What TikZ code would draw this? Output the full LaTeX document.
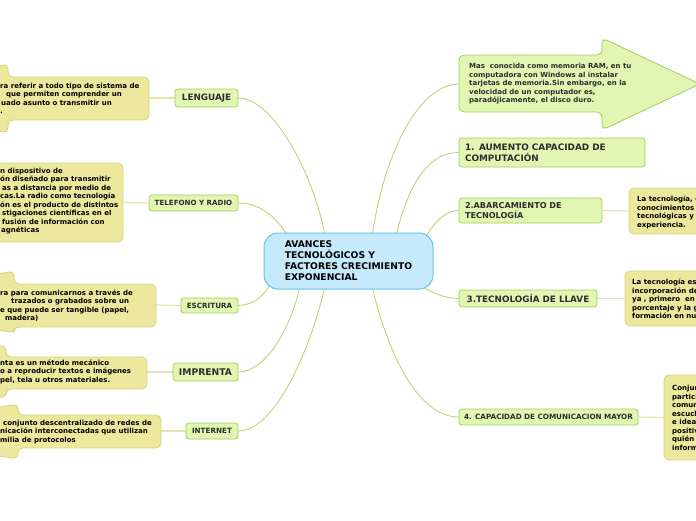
\documentclass[tikz,border=0pt]{standalone}
\usepackage{fontspec}
\setmainfont{DejaVu Sans}
\usetikzlibrary{calc}
\definecolor{gfill}{RGB}{224,246,178}
\definecolor{gline}{RGB}{162,206,86}
\definecolor{yfill}{RGB}{236,233,158}
\definecolor{yline}{RGB}{216,211,125}
\definecolor{cfill}{RGB}{198,234,251}
\definecolor{cline}{RGB}{104,195,236}
\definecolor{conn}{RGB}{178,212,104}
\definecolor{yconn}{RGB}{230,227,172}
\definecolor{txt}{RGB}{45,45,45}
\newcommand{\fsz}[2]{\fontsize{#1}{#2}\selectfont\bfseries}
\newcommand{\ind}[1]{\hspace*{#1}}
\pgfdeclarelayer{background}
\pgfsetlayers{background,main}
\begin{document}
\begin{tikzpicture}[x=1pt,y=-1pt,
  gbox/.style={draw=gline,fill=gfill,line width=0.8pt,rounded corners=3pt,inner sep=0pt,text=txt},
  ybox/.style={draw=yline,fill=yfill,line width=0.8pt,rounded corners=5pt},
  ytext/.style={inner sep=0pt,align=left,anchor=north west,text=black,font=\fsz{7}{8.5}},
  ytab/.style={inner sep=0pt,anchor=north west,text=black,font=\fsz{7}{8.5}},
  cbox/.style={draw=cline,fill=cfill,line width=1pt,rounded corners=14pt,inner sep=0pt,align=left,text=black},
  link/.style={draw=conn,line width=0.8pt},
  ylink/.style={draw=yconn,line width=1.2pt}]
\useasboundingbox (0,0) rectangle (696,520);
\clip (0,0) rectangle (696,520);

% central node
\node[cbox,minimum width=169pt,minimum height=56pt,font=\fsz{9.2}{11}] (c) at (348.5,261)
  {AVANCES\\TECNOLÓGICOS Y\\FACTORES CRECIMIENTO\\EXPONENCIAL};

% left topic nodes
\node[gbox,minimum width=63pt,minimum height=18pt,font=\fsz{8.8}{10}] (lang) at (206.5,98) {LENGUAJE};
\node[gbox,minimum width=89pt,minimum height=16pt,font=\fsz{7.1}{8}] (tel) at (193.5,203) {TELEFONO Y RADIO};
\node[gbox,minimum width=57pt,minimum height=15pt,font=\fsz{7.2}{8}] (esc) at (209.5,305.5) {ESCRITURA};
\node[gbox,minimum width=65pt,minimum height=18pt,font=\fsz{9.2}{10}] (imp) at (205.5,372) {IMPRENTA};
\node[gbox,minimum width=52pt,minimum height=16pt,font=\fsz{7.2}{8}] (int) at (212,431) {INTERNET};

% right topic nodes
\path[gbox,rounded corners=5pt] (459,55) -- (602,55) -- (602,38) -- (700,84) -- (602,130) -- (602,112) -- (459,112) -- cycle;
\coordinate (ramin) at (459,84);
\node[ytext,text=txt] (ramt) at (469,63) {Mas~ conocida como memoria RAM, en tu\\computadora con Windows al instalar\\tarjetas de memoria.Sin embargo, en la\\velocidad de un computador es,\\paradójicamente, el disco duro.};
\node[gbox,minimum width=186pt,minimum height=29pt,text width=174pt,align=left,font=\fsz{8.9}{11}] (a1) at (552,152.5) {1. AUMENTO CAPACIDAD DE\\COMPUTACIÓN};
\node[gbox,minimum width=143pt,minimum height=25pt,text width=131pt,align=left,font=\fsz{8.1}{10}] (a2) at (530.5,210.5) {2.ABARCAMIENTO DE\\TECNOLOGÍA};
\node[gbox,minimum width=138pt,minimum height=17pt,font=\fsz{8.8}{9}] (a3) at (528,298.5) {3.TECNOLOGÍA DE LLAVE};
\node[gbox,minimum width=179pt,minimum height=16pt,font=\fsz{7.2}{8}] (a4) at (548.5,417) {4. CAPACIDAD DE COMUNICACION MAYOR};

% right callouts
\node[ybox,minimum width=81pt,minimum height=46pt] (y2) at (669.5,211) {};
\node[ytext] (y2t) at (637,196) {La tecnología, e\\conocimientos\\tecnológicas y\\experiencia.};
\node[ybox,minimum width=85pt,minimum height=55pt] (y3) at (667.5,298.5) {};
\node[ytext] (y3t) at (632,279) {La tecnología es\\incorporación de\\ya , primero~ en\\porcentaje y la g\\formación en nu};
\node[ybox,minimum width=46pt,minimum height=85pt] (y4) at (687,417.5) {};
\node[ytext] (y4t) at (672,385) {Conjun\\partici\\comun\\escuch\\e ideas\\positiv\\quién p\\inform};

% left callouts
\path[ybox] (149,77) -- (149,120) -- (8,120) -- (8,133) -- (-150,98.5) -- (8,64) -- (8,77) -- cycle;
\coordinate (ly1) at (149,98);
\node[ytab] (ly1t) at (0,82) {\begin{tabular}{@{}l@{}}ra referir a todo tipo de sistema de\\\ind{6pt}que permiten comprender un\\\ind{1pt}uado asunto o transmitir un\\.\end{tabular}};

\node[ybox,minimum width=143pt,minimum height=79pt] (ly2) at (51.5,202.5) {};
\node[ytab] (ly2t) at (0,167) {\begin{tabular}{@{}l@{}}n dispositivo de\\ón diseñado para transmitir\\\ind{2pt}as a distancia por medio de\\cas.La radio como tecnología\\ón es el producto de distintos\\\ind{2pt}stigaciones científicas en el\\\ind{2pt}fusión de información con\\\ind{1pt}agnéticas\end{tabular}};

\path[ybox] (156,284) -- (156,327) -- (14,327) -- (14,333) -- (-150,302) -- (14,271) -- (14,284) -- cycle;
\coordinate (ly3) at (156,305);
\node[ytab] (ly3t) at (0,289) {\begin{tabular}{@{}l@{}}ra para comunicarnos a través de\\\ind{11pt}trazados o grabados sobre un\\e que puede ser tangible (papel,\\\ind{5pt}madera)\end{tabular}};

\path[ybox] (147,357) -- (147,389) -- (6,389) -- (6,398) -- (-150,372) -- (6,345) -- (6,357) -- cycle;
\coordinate (ly4) at (147,372);
\node[ytab] (ly4t) at (0,359) {\begin{tabular}{@{}l@{}}nta es un método mecánico\\o a reproducir textos e imágenes\\pel, tela u otros materiales.\end{tabular}};

\path[ybox] (161,415) -- (161,448) -- (18,448) -- (18,459) -- (-150,431.5) -- (18,404) -- (18,415) -- cycle;
\coordinate (ly5) at (161,431);
\node[ytab] (ly5t) at (0,419) {\begin{tabular}{@{}l@{}}\ind{3pt}conjunto descentralizado de redes de\\nicación interconectadas que utilizan\\milia de protocolos\end{tabular}};

\begin{pgfonlayer}{background}
% connectors from the centre
\draw[link] (lang.east) .. controls (275,98) and (315,180) .. ($(c.north west)+(61,1)$);
\draw[link] (tel.east) .. controls (258,203) and (275,215) .. ($(c.north west)+(24,3)$);
\draw[link] (esc.east) .. controls (252,305) and (262,298) .. ($(c.south west)+(6,-4)$);
\draw[link] (imp.east) .. controls (265,372) and (290,330) .. ($(c.south west)+(36,-1)$);
\draw[link] (int.east) .. controls (275,431) and (310,350) .. ($(c.south west)+(61,-1)$);
\draw[link] ($(c.north west)+(109,1)$) .. controls (385,150) and (420,84) .. (ramin);
\draw[link] ($(c.north west)+(133,1)$) .. controls (410,180) and (430,152.5) .. (a1.west);
\draw[link] ($(c.north east)+(-7,3)$) .. controls (435,222) and (445,210.5) .. (a2.west);
\draw[link] ($(c.south east)+(-11,-3)$) .. controls (430,292) and (445,298.5) .. (a3.west);
\draw[link] ($(c.south west)+(109,-1)$) .. controls (390,360) and (420,417) .. (a4.west);
% connectors to the notes
\draw[ylink] (lang.west) -- (ly1);
\draw[ylink] (tel.west) -- (ly2.east);
\draw[ylink] (esc.west) -- (ly3);
\draw[ylink] (imp.west) -- (ly4);
\draw[ylink] (int.west) -- (ly5);
\draw[ylink] (a2.east) -- (y2.west);
\draw[ylink] (a3.east) -- (y3.west);
\draw[ylink] (a4.east) -- (y4.west);
\end{pgfonlayer}
\end{tikzpicture}
\end{document}
